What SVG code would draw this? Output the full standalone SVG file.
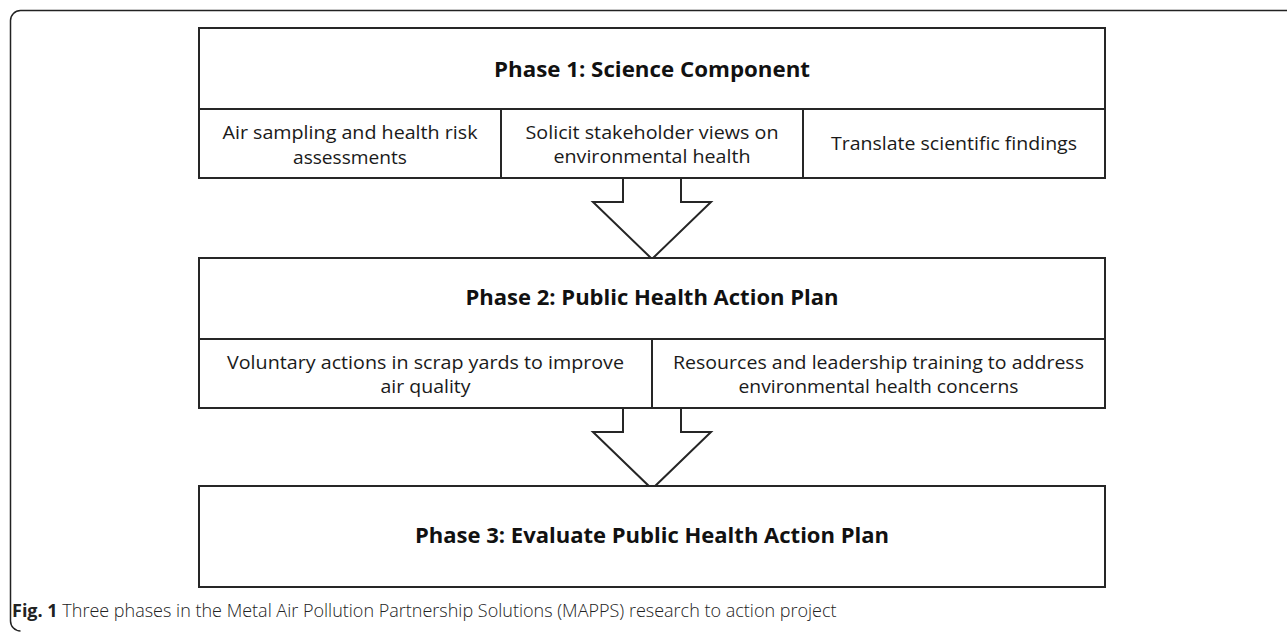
<svg xmlns="http://www.w3.org/2000/svg" width="1287" height="632" viewBox="0 0 1287 632">
  <style>
    .frame { fill: none; stroke: #222; stroke-width: 1.5; }
    .box { fill: #fff; stroke: #262626; stroke-width: 2; }
    .rule { stroke: #262626; stroke-width: 2; fill: none; }
    .arrow { fill: #fff; stroke: #262626; stroke-width: 2; stroke-linejoin: miter; }
    .title { font-family: "Open Sans", "Liberation Sans", sans-serif; font-weight: 700; font-size: 22px; fill: #111; text-anchor: middle; }
    .item { font-family: "Open Sans", "Liberation Sans", sans-serif; font-size: 18px; fill: #1a1a1a; text-anchor: middle; }
    .caption { font-family: "Open Sans", "Liberation Sans", sans-serif; font-size: 18px; font-weight: 300; fill: #222; }
    .caption-bold { font-weight: 700; }
  </style>

  <rect width="1287" height="632" fill="#fff"/>

  <!-- outer figure frame (open to the right) -->
  <path class="frame" d="M1300 10.5 H20.5 A10 10 0 0 0 10.5 20.5 V621 A10 10 0 0 0 20.5 631"/>

  <!-- connectors: hollow block arrows between phases -->
  <g id="connectors">
    <path class="arrow" d="M623 178 V202 H593 L652 259 L711 202 H681 V178"/>
    <path class="arrow" d="M623 408 V432 H593 L652 489 L711 432 H681 V408"/>
  </g>

  <g id="phase1">
    <rect class="box" x="199" y="28" width="906" height="150"/>
    <line class="rule" x1="199" y1="109" x2="1105" y2="109"/>
    <line class="rule" x1="501" y1="109" x2="501" y2="178"/>
    <line class="rule" x1="803" y1="109" x2="803" y2="178"/>
    <text class="title" x="652" y="77" textLength="316" lengthAdjust="spacingAndGlyphs">Phase 1: Science Component</text>
  </g>

  <g id="phase1-air-sampling">
    <text class="item" x="350" y="139" textLength="255" lengthAdjust="spacingAndGlyphs">Air sampling and health risk</text>
    <text class="item" x="350" y="164" textLength="114" lengthAdjust="spacingAndGlyphs">assessments</text>
  </g>

  <g id="phase1-stakeholders">
    <text class="item" x="652" y="139" textLength="253" lengthAdjust="spacingAndGlyphs">Solicit stakeholder views on</text>
    <text class="item" x="652" y="163" textLength="197" lengthAdjust="spacingAndGlyphs">environmental health</text>
  </g>

  <g id="phase1-translate">
    <text class="item" x="954" y="150" textLength="246" lengthAdjust="spacingAndGlyphs">Translate scientific findings</text>
  </g>

  <g id="phase2">
    <rect class="box" x="199" y="258" width="906" height="150"/>
    <line class="rule" x1="199" y1="339" x2="1105" y2="339"/>
    <line class="rule" x1="652" y1="339" x2="652" y2="408"/>
    <text class="title" x="652" y="305" textLength="373" lengthAdjust="spacingAndGlyphs">Phase 2: Public Health Action Plan</text>
  </g>

  <g id="phase2-voluntary">
    <text class="item" x="425.5" y="369" textLength="397" lengthAdjust="spacingAndGlyphs">Voluntary actions in scrap yards to improve</text>
    <text class="item" x="425.5" y="393" textLength="90" lengthAdjust="spacingAndGlyphs">air quality</text>
  </g>

  <g id="phase2-resources">
    <text class="item" x="878.5" y="369" textLength="411" lengthAdjust="spacingAndGlyphs">Resources and leadership training to address</text>
    <text class="item" x="878.5" y="393" textLength="280" lengthAdjust="spacingAndGlyphs">environmental health concerns</text>
  </g>

  <g id="phase3">
    <rect class="box" x="199" y="486" width="906" height="101"/>
    <text class="title" x="652" y="543" textLength="474" lengthAdjust="spacingAndGlyphs">Phase 3: Evaluate Public Health Action Plan</text>
  </g>

  <g id="caption">
    <text class="caption" x="12" y="617"><tspan class="caption-bold">Fig. 1</tspan> Three phases in the Metal Air Pollution Partnership Solutions (MAPPS) research to action project</text>
  </g>
</svg>
